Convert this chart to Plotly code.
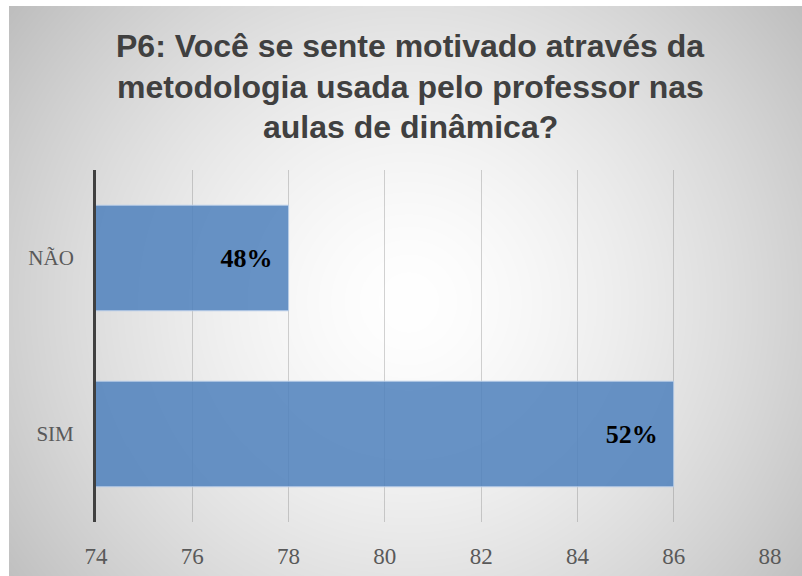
import base64, struct, zlib
import numpy as np
import plotly.graph_objects as go

# ---- data ----
categories = ["SIM", "NÃO"]
values = [86, 78]
value_labels = ["52%", "48%"]
x_ticks = [74, 76, 78, 80, 82, 84, 86, 88]
title_lines = ["P6: Você se sente motivado através da",
               "metodologia usada pelo professor nas",
               "aulas de dinâmica?"]

# ---- radial gradient background as an embedded PNG ----
W, H = 793, 570
yy, xx = np.mgrid[0:H, 0:W]
cx, cy = 396, 294
r = np.sqrt(((xx - cx) / 560.0) ** 2 + ((yy - cy) / 550.0) ** 2)
img = (255 - 78 * np.clip(r, 0, 1.2) ** 1.5).clip(0, 255).astype(np.uint8)

def png_gray(a):
    h, w = a.shape
    raw = b"".join(b"\x00" + a[i].tobytes() for i in range(h))
    def chunk(t, d):
        c = struct.pack(">I", len(d)) + t + d
        return c + struct.pack(">I", zlib.crc32(t + d) & 0xffffffff)
    return (b"\x89PNG\r\n\x1a\n" + chunk(b"IHDR", struct.pack(">IIBBBBB", w, h, 8, 0, 0, 0, 0))
            + chunk(b"IDAT", zlib.compress(raw, 9)) + chunk(b"IEND", b""))

uri = "data:image/png;base64," + base64.b64encode(png_gray(img)).decode()

# plot area in pixels
L, R, T, B = 96, 770, 170, 522
pw, ph = R - L, B - T
def px(x): return (x - L) / pw
def py(y): return (B - y) / ph

fig = go.Figure()
fig.add_trace(go.Bar(
    y=categories, x=values, orientation="h", base=0,
    marker=dict(color="rgba(79,129,189,0.86)", line=dict(color="rgba(190,210,235,0.9)", width=1)),
    text=[t + "\u00a0\u00a0" for t in value_labels], textposition="inside", insidetextanchor="end",
    textfont=dict(family="Liberation Serif", size=26, color="#000000", weight="bold"),
    cliponaxis=True, hoverinfo="skip",
))

annotations = []
for line, yc in zip(title_lines, [46, 87, 127]):
    annotations.append(dict(text="<b>" + line + "</b>", xref="paper", yref="paper",
                            x=px(410), y=py(yc), xanchor="center", yanchor="middle",
                            showarrow=False,
                            font=dict(family="Liberation Sans", size=32, color="#404040")))

fig.update_layout(
    width=802, height=576,
    margin=dict(l=L, r=802 - R, t=T, b=576 - B, pad=0, autoexpand=False),
    paper_bgcolor="#ffffff", plot_bgcolor="rgba(0,0,0,0)",
    showlegend=False, bargap=0.4,
    annotations=annotations,
    images=[dict(source=uri, xref="paper", yref="paper",
                 x=px(9), y=py(6), sizex=(802 - 9) / pw + 0.01, sizey=(576 - 6) / ph + 0.01,
                 xanchor="left", yanchor="top", sizing="stretch", layer="below")],
    xaxis=dict(range=[74, 88], tickvals=x_ticks, ticktext=[str(v) for v in x_ticks],
               showgrid=True, gridcolor="rgba(110,110,110,0.3)", gridwidth=1,
               zeroline=False, showline=False, ticks="", automargin=False,
               tickfont=dict(family="Liberation Serif", size=23, color="#595959"),
               ticklabelstandoff=18, fixedrange=True),
    yaxis=dict(showgrid=False, zeroline=False, showline=True, linecolor="#404040", linewidth=3,
               ticks="", automargin=False,
               tickfont=dict(family="Liberation Serif", size=21, color="#595959"),
               ticklabelstandoff=15, fixedrange=True),
)

fig.write_html("out.html", config={"displayModeBar": False},
               post_script="document.body.style.margin='0';document.body.style.overflow='hidden';")
